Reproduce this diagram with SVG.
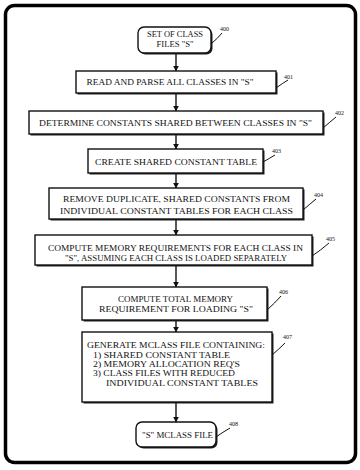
<svg xmlns="http://www.w3.org/2000/svg" width="360" height="470" viewBox="0 0 360 470">
<style>
.box{fill:#fff;stroke:#111;stroke-width:1.4}
.sh{fill:#222}
.t{font-family:"Liberation Serif",serif;font-size:8px;fill:#111;text-anchor:middle}
.tl{font-family:"Liberation Serif",serif;font-size:8px;fill:#111}
.lab{font-family:"Liberation Serif",serif;font-size:6px;fill:#111}
.ld{fill:none;stroke:#111;stroke-width:1}
.c{stroke:#111;stroke-width:1.4;fill:none}
</style>
<defs>
<marker id="ah" viewBox="0 0 10 10" refX="9" refY="5" markerWidth="6" markerHeight="6" orient="auto" markerUnits="userSpaceOnUse"><path d="M0,0 L10,5 L0,10 z" fill="#111"/></marker>
</defs>
<rect width="360" height="470" fill="#fff"/>
<rect x="5.5" y="5.5" width="350" height="457" rx="9" fill="none" stroke="#000" stroke-width="3.5"/>
<g id="connectors">
<line class="c" x1="176" y1="53" x2="176" y2="71" marker-end="url(#ah)"/>
<line class="c" x1="176" y1="93" x2="176" y2="111" marker-end="url(#ah)"/>
<line class="c" x1="176" y1="134" x2="176" y2="149" marker-end="url(#ah)"/>
<line class="c" x1="176" y1="173" x2="176" y2="188" marker-end="url(#ah)"/>
<line class="c" x1="176" y1="219" x2="176" y2="235" marker-end="url(#ah)"/>
<line class="c" x1="176" y1="265" x2="176" y2="287" marker-end="url(#ah)"/>
<line class="c" x1="176" y1="320" x2="176" y2="332" marker-end="url(#ah)"/>
<line class="c" x1="176" y1="402" x2="176" y2="422" marker-end="url(#ah)"/>
</g>
<g id="n400">
<rect class="sh" x="139.5" y="28.5" width="73" height="26" rx="6"/>
<rect class="box" x="138" y="27" width="73" height="26" rx="6"/>
<text class="t" x="175" y="37" textLength="56" lengthAdjust="spacingAndGlyphs">SET OF CLASS</text>
<text class="t" x="175" y="47" textLength="37" lengthAdjust="spacingAndGlyphs">FILES "S"</text>
<path class="ld" d="M211,44 Q218,38 222,33"/>
<text class="lab" x="220" y="31">400</text>
</g>
<g id="n401">
<rect class="sh" x="77.5" y="72.5" width="200" height="22"/>
<rect class="box" x="76" y="71" width="200" height="22"/>
<text class="t" x="170" y="85" textLength="167" lengthAdjust="spacingAndGlyphs">READ AND PARSE ALL CLASSES IN "S"</text>
<path class="ld" d="M276,88 Q283,83 288,80"/>
<text class="lab" x="284" y="79">401</text>
</g>
<g id="n402">
<rect class="sh" x="30.5" y="112.5" width="294" height="23"/>
<rect class="box" x="29" y="111" width="294" height="23"/>
<text class="t" x="175.5" y="126" textLength="273" lengthAdjust="spacingAndGlyphs">DETERMINE CONSTANTS SHARED BETWEEN CLASSES IN "S"</text>
<path class="ld" d="M323,128 Q330,122 336,117"/>
<text class="lab" x="335" y="115">402</text>
</g>
<g id="n403">
<rect class="sh" x="89.5" y="150.5" width="175" height="24"/>
<rect class="box" x="88" y="149" width="175" height="24"/>
<text class="t" x="176" y="165" textLength="162" lengthAdjust="spacingAndGlyphs">CREATE SHARED CONSTANT TABLE</text>
<path class="ld" d="M263,162 Q270,158 275,155"/>
<text class="lab" x="272" y="153">403</text>
</g>
<g id="n404">
<rect class="sh" x="50.5" y="189.5" width="254" height="31"/>
<rect class="box" x="49" y="188" width="254" height="31"/>
<text class="t" x="176.5" y="202" textLength="227" lengthAdjust="spacingAndGlyphs">REMOVE DUPLICATE, SHARED CONSTANTS FROM</text>
<text class="t" x="176.5" y="214" textLength="233" lengthAdjust="spacingAndGlyphs">INDIVIDUAL  CONSTANT TABLES FOR EACH CLASS</text>
<path class="ld" d="M303,210 Q310,204 316,199"/>
<text class="lab" x="314" y="197">404</text>
</g>
<g id="n405">
<rect class="sh" x="36.5" y="236.5" width="277" height="30"/>
<rect class="box" x="35" y="235" width="277" height="30"/>
<text class="t" x="175.5" y="251" textLength="255" lengthAdjust="spacingAndGlyphs">COMPUTE MEMORY REQUIREMENTS FOR EACH CLASS IN</text>
<text class="t" x="176" y="261" textLength="222" lengthAdjust="spacingAndGlyphs">"S", ASSUMING EACH CLASS IS LOADED SEPARATELY</text>
<path class="ld" d="M312,256 Q321,250 329,243"/>
<text class="lab" x="326" y="241">405</text>
</g>
<g id="n406">
<rect class="sh" x="83.5" y="288.5" width="185" height="33"/>
<rect class="box" x="82" y="287" width="185" height="33"/>
<text class="t" x="175.5" y="302" textLength="115" lengthAdjust="spacingAndGlyphs">COMPUTE TOTAL MEMORY</text>
<text class="t" x="176" y="312" textLength="154" lengthAdjust="spacingAndGlyphs">REQUIREMENT FOR LOADING "S"</text>
<path class="ld" d="M267,310 Q275,303 281,296"/>
<text class="lab" x="279" y="294">406</text>
</g>
<g id="n407">
<rect class="sh" x="83.5" y="333.5" width="190" height="70"/>
<rect class="box" x="82" y="332" width="190" height="70"/>
<text class="tl" x="87" y="348" textLength="178" lengthAdjust="spacingAndGlyphs">GENERATE MCLASS FILE CONTAINING:</text>
<text class="tl" x="93" y="358" textLength="137" lengthAdjust="spacingAndGlyphs">1)  SHARED CONSTANT TABLE</text>
<text class="tl" x="93" y="367" textLength="147" lengthAdjust="spacingAndGlyphs">2)  MEMORY ALLOCATION REQ'S</text>
<text class="tl" x="93" y="376" textLength="142" lengthAdjust="spacingAndGlyphs">3)  CLASS FILES WITH REDUCED</text>
<text class="tl" x="106" y="386" textLength="152" lengthAdjust="spacingAndGlyphs">INDIVIDUAL  CONSTANT TABLES</text>
<path class="ld" d="M272,355 Q279,349 285,343"/>
<text class="lab" x="283" y="339">407</text>
</g>
<g id="n408">
<rect class="sh" x="137.5" y="423.5" width="80" height="25" rx="6"/>
<rect class="box" x="136" y="422" width="80" height="25" rx="6"/>
<text class="t" x="177.5" y="438" textLength="71" lengthAdjust="spacingAndGlyphs">"S" MCLASS FILE</text>
<path class="ld" d="M216,437 Q223,432 230,428"/>
<text class="lab" x="229" y="426">408</text>
</g>
</svg>
